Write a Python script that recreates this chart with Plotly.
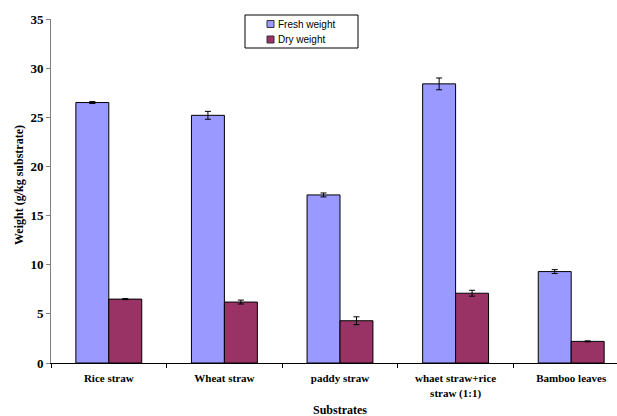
import plotly.graph_objects as go

categories = ["Rice straw", "Wheat straw", "paddy straw", "whaet straw+rice<br>straw (1:1)", "Bamboo leaves"]
fresh = [26.5, 25.2, 17.1, 28.4, 9.3]
fresh_err = [0.1, 0.4, 0.2, 0.6, 0.2]
dry = [6.5, 6.2, 4.3, 7.1, 2.2]
dry_err = [0.05, 0.2, 0.4, 0.3, 0.05]
yticks = [0, 5, 10, 15, 20, 25, 30, 35]
series_names = ["Fresh weight", "Dry weight"]
series_colors = ["#9999FF", "#993366"]

serif = "Liberation Serif"
W, H = 617, 416
L, R, T, B = 51, 0, 19, 53
PW, PH = W - L - R, H - T - B


def px(x):
    return (x - L) / PW


def py(y):
    return (H - B - y) / PH


fig = go.Figure()
for name, vals, errs, col in [
    (series_names[0], fresh, fresh_err, series_colors[0]),
    (series_names[1], dry, dry_err, series_colors[1]),
]:
    fig.add_trace(go.Bar(
        name=name, x=categories, y=vals,
        marker=dict(color=col, line=dict(color="black", width=1)),
        error_y=dict(type="data", array=errs, color="black", thickness=1, width=3),
        showlegend=False,
    ))

fig.update_layout(
    width=W, height=H,
    margin=dict(l=L, r=R, t=T, b=B),
    paper_bgcolor="white", plot_bgcolor="white",
    barmode="group", bargap=0.43, bargroupgap=0,
    showlegend=False,
    font=dict(family=serif, color="black"),
)

fig.update_xaxes(
    range=[-0.5, 4.5 - (629 - 617) / 115.6],
    showline=True, linecolor="black", linewidth=1,
    ticks="outside", tickson="boundaries", ticklen=4, tickcolor="black",
    ticklabelstandoff=5,
    tickfont=dict(family=serif, size=11, color="black", weight="bold"),
    showgrid=False, zeroline=False,
)
fig.update_yaxes(
    range=[0, 35], tickvals=yticks,
    showline=True, linecolor="#808080", linewidth=1,
    ticks="outside", ticklen=4, tickcolor="#808080",
    tickfont=dict(family=serif, size=13, color="black", weight="bold"),
    showgrid=False, zeroline=False,
)

# axis titles
fig.add_annotation(
    text="<b>Weight (g/kg substrate)</b>", textangle=-90,
    xref="paper", yref="paper", x=px(19), y=py(185),
    xanchor="center", yanchor="middle", showarrow=False,
    font=dict(family=serif, size=12, color="black"),
)
fig.add_annotation(
    text="<b>Substrates</b>",
    xref="x", yref="paper", x=2, y=py(401),
    xanchor="center", yanchor="top", showarrow=False,
    font=dict(family=serif, size=12, color="black"),
)

# legend box (drawn manually to match the small square markers)
fig.add_shape(type="rect", xref="paper", yref="paper",
              x0=px(245), x1=px(358), y0=py(48), y1=py(15),
              line=dict(color="black", width=1), fillcolor="white")
for i, (name, col) in enumerate(zip(series_names, series_colors)):
    cy = 24 + i * 15.5
    fig.add_shape(type="rect", xref="paper", yref="paper",
                  x0=px(267), x1=px(274), y0=py(cy + 3.5), y1=py(cy - 3.5),
                  line=dict(color="#333333", width=1), fillcolor=col)
    fig.add_annotation(
        text=name, xref="paper", yref="paper", x=px(276), y=py(cy),
        xanchor="left", yanchor="middle", showarrow=False,
        font=dict(family="Liberation Sans", size=10, color="black"),
    )

fig.write_html("out.html")
